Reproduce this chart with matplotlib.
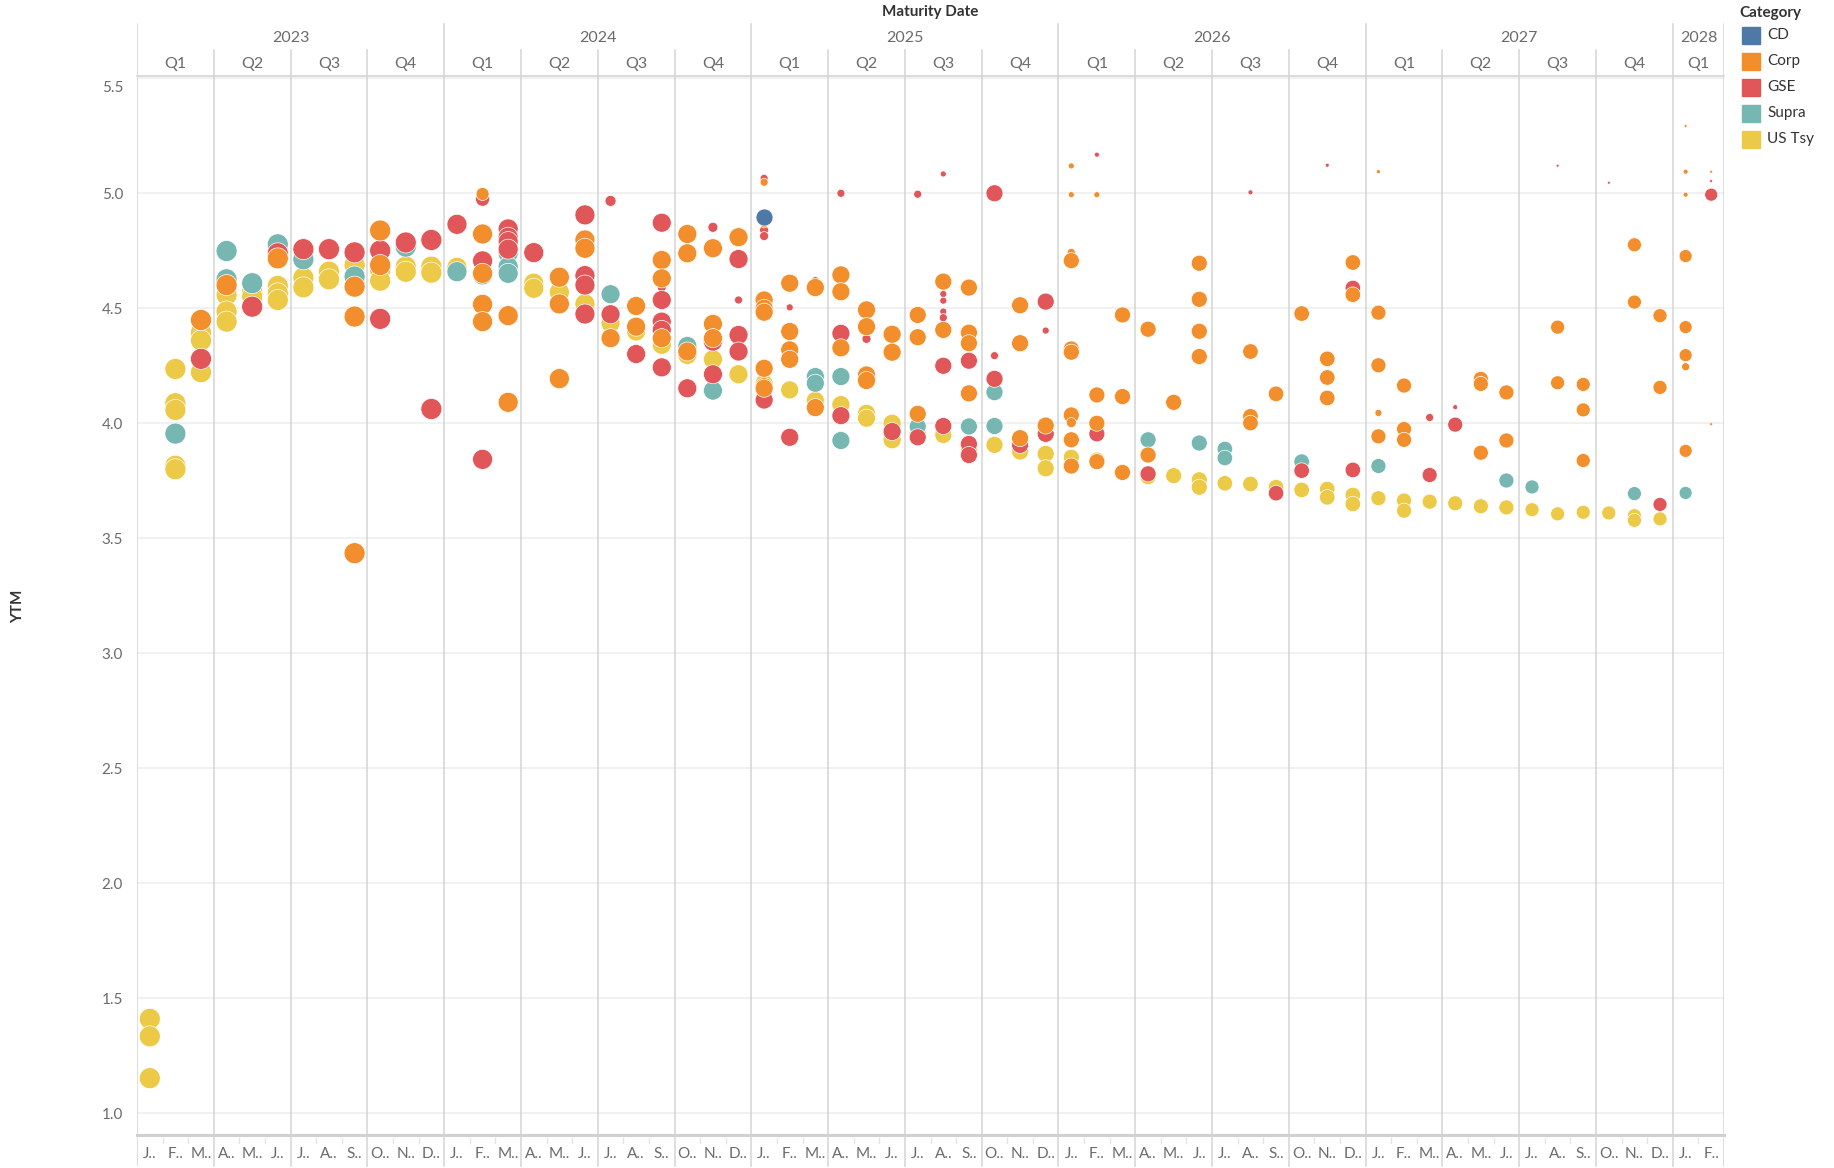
import matplotlib
matplotlib.use('Agg')
import matplotlib.pyplot as plt
from matplotlib.patches import Rectangle

plt.rcParams['font.family'] = ['Lato', 'DejaVu Sans']

W, H, DPI = 1834, 1168, 100

years = [2023, 2024, 2025, 2026, 2027, 2028]
months = ['%d-%02d' % (y, m) for y in years for m in range(1, 13)][:62]
month_abbr = ['J..', 'F..', 'M..', 'A..', 'M..', 'J..',
              'J..', 'A..', 'S..', 'O..', 'N..', 'D..']

# typical marker diameter (px) per maturity month
base_diam = ([21] * 12 + [20] * 6 + [19] * 6 + [18] * 6 + [17] * 6 +
             [16] * 6 + [15.5] * 6 + [15] * 6 + [14] * 6 + [13] * 2)

# YTM per maturity month; (ytm, diameter) where the mark is smaller
us_tsy = {
    '2023-01': [1.41, 1.334, 1.152],
    '2023-02': [4.236, 4.087, 4.058, 3.815, 3.80],
    '2023-03': [4.394, 4.36, 4.222],
    '2023-04': [4.558, 4.486, 4.442],
    '2023-05': [4.572, 4.55],
    '2023-06': [4.597, 4.565, 4.536],
    '2023-07': [4.633, 4.591],
    '2023-08': [4.659, 4.626],
    '2023-09': [4.688],
    '2023-10': [4.664, 4.62],
    '2023-11': [4.681, 4.659],
    '2023-12': [4.681, 4.655],
    '2024-01': [4.678],
    '2024-04': [4.609, 4.587],
    '2024-05': [4.570],
    '2024-06': [4.519],
    '2024-07': [4.435],
    '2024-08': [4.399],
    '2024-09': [4.341],
    '2024-10': [4.297],
    '2024-11': [4.278],
    '2024-12': [4.213],
    '2025-01': [4.174],
    '2025-02': [4.145],
    '2025-03': [4.099],
    '2025-04': [4.081],
    '2025-05': [4.043, 4.022],
    '2025-06': [4.0, 3.928],
    '2025-07': [3.955],
    '2025-08': [3.949],
    '2025-09': [3.887],
    '2025-10': [3.906],
    '2025-11': [3.877],
    '2025-12': [3.867, 3.804],
    '2026-01': [3.852],
    '2026-02': [3.84],
    '2026-03': [3.787],
    '2026-04': [3.768],
    '2026-05': [3.772],
    '2026-06': [3.754, 3.722],
    '2026-07': [3.739],
    '2026-08': [3.736],
    '2026-09': [3.722],
    '2026-10': [3.71],
    '2026-11': [3.714, 3.678],
    '2026-12': [3.688, 3.649],
    '2027-01': [3.674],
    '2027-02': [3.664, 3.62],
    '2027-03': [3.659],
    '2027-04': [3.652],
    '2027-05': [3.639],
    '2027-06': [3.634],
    '2027-07': [3.624],
    '2027-08': [3.606],
    '2027-09': [3.613],
    '2027-10': [3.61],
    '2027-11': [3.598, 3.578],
    '2027-12': [3.584],
}

supra = {
    '2023-02': [3.955],
    '2023-04': [4.749, 4.626],
    '2023-05': [4.609],
    '2023-06': [4.778],
    '2023-07': [4.713],
    '2023-09': [4.638],
    '2023-11': [4.768],
    '2024-01': [4.659],
    '2024-02': [4.645],
    '2024-03': [4.739, 4.681, 4.652],
    '2024-07': [4.561],
    '2024-10': [4.336],
    '2024-11': [4.142],
    '2025-03': [4.203, 4.174],
    '2025-04': [4.203, 3.925],
    '2025-07': [3.986],
    '2025-09': [3.986],
    '2025-10': [4.135, 3.988],
    '2026-04': [3.928],
    '2026-06': [3.914],
    '2026-07': [3.888, 3.849],
    '2026-10': [3.833],
    '2027-01': [3.814],
    '2027-06': [3.751],
    '2027-07': [3.723],
    '2027-11': [3.694],
    '2028-01': [3.697],
}

gse = {
    '2023-03': [4.28],
    '2023-05': [4.507],
    '2023-06': [4.739],
    '2023-07': [4.757],
    '2023-08': [4.757],
    '2023-09': [4.743],
    '2023-10': [4.751, 4.454],
    '2023-11': [4.786],
    '2023-12': [4.797, 4.062],
    '2024-01': [4.865],
    '2024-02': [(4.974, 14), 4.706, 3.843],
    '2024-03': [4.845, 4.809, 4.79, 4.757],
    '2024-04': [4.742],
    '2024-06': [4.906, 4.642, 4.601, 4.475],
    '2024-07': [(4.967, 11), 4.474],
    '2024-08': [4.301],
    '2024-09': [4.872, (4.591, 9), 4.536, 4.442, 4.406, 4.243],
    '2024-10': [4.152],
    '2024-11': [(4.852, 10), 4.355, 4.213],
    '2024-12': [4.714, (4.536, 8), 4.384, 4.312],
    '2025-01': [(5.065, 8), (4.84, 9), (4.814, 9), 4.101],
    '2025-02': [(4.504, 7), 3.939],
    '2025-03': [(4.62, 8)],
    '2025-04': [(5.0, 8), 4.391, 4.033],
    '2025-05': [(4.367, 9)],
    '2025-06': [3.964],
    '2025-07': [(4.996, 8), 3.939],
    '2025-08': [(5.084, 6), (4.562, 7), (4.533, 7), (4.486, 7), (4.459, 8),
                4.25, 3.988],
    '2025-09': [4.272, 3.91, 3.862],
    '2025-10': [5.0, (4.294, 8), 4.193],
    '2025-11': [3.906],
    '2025-12': [4.529, (4.403, 7), 3.954],
    '2026-02': [(5.168, 5), 3.954],
    '2026-04': [3.78],
    '2026-08': [(5.004, 5)],
    '2026-09': [3.696],
    '2026-10': [3.794],
    '2026-11': [(5.122, 4)],
    '2026-12': [4.588, 3.797],
    '2027-03': [(4.025, 8), 3.775],
    '2027-04': [(4.07, 5), 3.994],
    '2027-08': [(5.12, 3)],
    '2027-10': [(5.046, 3)],
    '2027-12': [3.647],
    '2028-02': [(5.053, 3), 4.994],
}

corp = {
    '2023-03': [4.449],
    '2023-04': [4.601],
    '2023-06': [4.717],
    '2023-09': [4.594, 4.464, 3.435],
    '2023-10': [4.838, 4.688],
    '2024-02': [(4.997, 13), 4.823, 4.652, 4.517, 4.442],
    '2024-03': [4.468, 4.091],
    '2024-05': [4.635, 4.519, 4.194],
    '2024-06': [4.797, 4.761],
    '2024-07': [4.370],
    '2024-08': [4.51, 4.42],
    '2024-09': [4.710, 4.630, 4.370],
    '2024-10': [4.823, 4.739, 4.312],
    '2024-11': [4.761, 4.432, 4.370],
    '2024-12': [4.809],
    '2025-01': [(5.048, 8), (4.867, 8), 4.536, 4.5, 4.483, 4.239, 4.159, 4.152],
    '2025-02': [4.609, 4.399, 4.319, 4.278],
    '2025-03': [4.59, 4.068],
    '2025-04': [4.645, 4.572, 4.328],
    '2025-05': [4.493, 4.42, 4.21, 4.186],
    '2025-06': [4.387, 4.309],
    '2025-07': [4.471, 4.374, 4.041],
    '2025-08': [4.616, 4.406],
    '2025-09': [4.59, 4.394, 4.348, 4.13],
    '2025-11': [4.513, 4.348, 3.935],
    '2025-12': [3.99],
    '2026-01': [(5.119, 6), (4.994, 6), (4.743, 8), 4.707, 4.323, 4.309, 4.036,
                (4.003, 10), 3.928, 3.814],
    '2026-02': [(4.994, 6), 4.123, 4.0, 3.833],
    '2026-03': [4.471, 4.116, 3.786],
    '2026-04': [4.409, 3.862],
    '2026-05': [4.091],
    '2026-06': [4.696, 4.539, 4.4, 4.29],
    '2026-08': [4.312, 4.03, 4.001],
    '2026-09': [4.128],
    '2026-10': [4.477],
    '2026-11': [4.28, 4.199, 4.11],
    '2026-12': [4.699, 4.559],
    '2027-01': [(5.094, 4), 4.481, 4.252, (4.045, 7), 3.943],
    '2027-02': [4.164, 3.975, 3.928],
    '2027-05': [4.193, 4.171, 3.872],
    '2027-06': [4.134, 3.925],
    '2027-08': [4.418, 4.176],
    '2027-09': [4.169, 4.058, 3.838],
    '2027-11': [4.776, 4.527],
    '2027-12': [4.468, 4.156],
    '2028-01': [(5.293, 3), (5.094, 5), (4.994, 5), 4.727, 4.418, 4.296,
                (4.246, 8), 3.88],
    '2028-02': [(5.094, 3), (3.996, 3)],
}

cd = {
    '2025-01': [(4.899, 17)],
}

categories = ['CD', 'Corp', 'GSE', 'Supra', 'US Tsy']
colors = {'CD': '#4e79a7', 'Corp': '#f28e2b', 'GSE': '#e15759',
          'Supra': '#76b7b2', 'US Tsy': '#edc948'}
series = {'CD': cd, 'Corp': corp, 'GSE': gse, 'Supra': supra, 'US Tsy': us_tsy}
draw_order = ['US Tsy', 'Supra', 'GSE', 'Corp', 'CD']


def flatten(d):
    xs, ys, ss = [], [], []
    for m, vals in d.items():
        i = months.index(m)
        for v in vals:
            if isinstance(v, tuple):
                y, dm = v
            else:
                y, dm = v, base_diam[i]
            xs.append(i + 0.5)
            ys.append(y)
            ss.append((dm * 72 / DPI) ** 2)
    return xs, ys, ss


grid_c = '#d4d4d4'
text_c = '#6b6b6b'
dark_c = '#333333'
n = len(months)
year_starts = [0, 12, 24, 36, 48, 60]

fig = plt.figure(figsize=(W / DPI, H / DPI), dpi=DPI)


def px_axes(left, top, right, bottom):
    return fig.add_axes([left / W, 1 - bottom / H, (right - left) / W,
                         (bottom - top) / H])


# main plot
ax = px_axes(137, 76, 1724, 1135)
for i, cat in enumerate(draw_order):
    xs, ys, ss = flatten(series[cat])
    ax.scatter(xs, ys, s=ss, color=colors[cat], edgecolor='white',
               linewidth=0.5, zorder=3 + i)

ax.set_xlim(0, n)
ax.set_ylim(0.905, 5.51)
yt = [1.0 + 0.5 * k for k in range(10)]
ax.set_yticks(yt[:-1])
ax.set_yticklabels(['%.1f' % v for v in yt[:-1]])
# top label sits below its gridline, as in the original
ax.annotate('%.1f' % yt[-1], xy=(0, yt[-1]), xycoords=('axes fraction', 'data'),
            xytext=(-10, -7), textcoords='offset points', ha='right',
            va='center', fontsize=11, color=text_c)
ax.set_xticks([])
ax.tick_params(axis='y', length=0, labelcolor=text_c, labelsize=11, pad=10)
for v in yt:
    ax.axhline(v, color='#f0f0f0', lw=1.3, zorder=0)
for q in list(range(0, n, 3)) + [n]:
    ax.axvline(q, color=grid_c, lw=1.1, zorder=1)
for side in ['left', 'right']:
    ax.spines[side].set_visible(False)
ax.spines['top'].set_color(grid_c)
ax.spines['top'].set_linewidth(1.2)
ax.spines['bottom'].set_color('#d0d0d0')
ax.spines['bottom'].set_linewidth(2.2)

fig.text(18 / W, 1 - 606 / H, 'YTM', rotation=90, ha='center', va='center',
         fontsize=11, fontweight='bold', color=dark_c)

# column headers
hx = px_axes(137, 0, 1724, 76)
hx.set_xlim(0, n)
hx.set_ylim(76, 0)
hx.axis('off')
hx.text(n / 2, 12, 'Maturity Date', ha='center', va='center', fontsize=11,
        fontweight='bold', color=dark_c)
for m in year_starts + [n]:
    hx.plot([m, m], [24, 76], color=grid_c, lw=1.1)
for q in range(3, n, 3):
    if q not in year_starts:
        hx.plot([q, q], [50, 76], color=grid_c, lw=1.1)
for k, y in enumerate(years):
    a, b = year_starts[k], min(year_starts[k] + 12, n)
    hx.text((a + b) / 2, 38, str(y), ha='center', va='center', fontsize=11.5,
            color=text_c)
for q in range(0, n, 3):
    b = min(q + 3, n)
    hx.text((q + b) / 2, 64, 'Q%d' % ((q % 12) // 3 + 1), ha='center',
            va='center', fontsize=11.5, color=text_c)

# month labels
fx = px_axes(137, 1135, 1724, 1168)
fx.set_xlim(0, n)
fx.set_ylim(1168, 1135)
fx.axis('off')
for m in range(n + 1):
    if m % 3 == 0 or m == n:
        fx.plot([m, m], [1136, 1166], color=grid_c, lw=1.1)
    else:
        fx.plot([m, m], [1138, 1143], color='#e4e4e4', lw=1.0)
for m in range(n):
    fx.text(m + 0.5, 1154, month_abbr[m % 12], ha='center', va='center',
            fontsize=11, color=text_c)

# legend
lx = px_axes(1734, 0, 1834, 160)
lx.set_xlim(1734, 1834)
lx.set_ylim(160, 0)
lx.axis('off')
lx.text(1739, 13, 'Category', ha='left', va='center', fontsize=11,
        fontweight='bold', color=dark_c)
for k, cat in enumerate(categories):
    cy = 35 + 26 * k
    lx.add_patch(Rectangle((1742, cy - 8.5), 17.5, 17.5, color=colors[cat]))
    lx.text(1767, cy, cat, ha='left', va='center', fontsize=11, color=dark_c)

fig.savefig('out.png', dpi=DPI)
